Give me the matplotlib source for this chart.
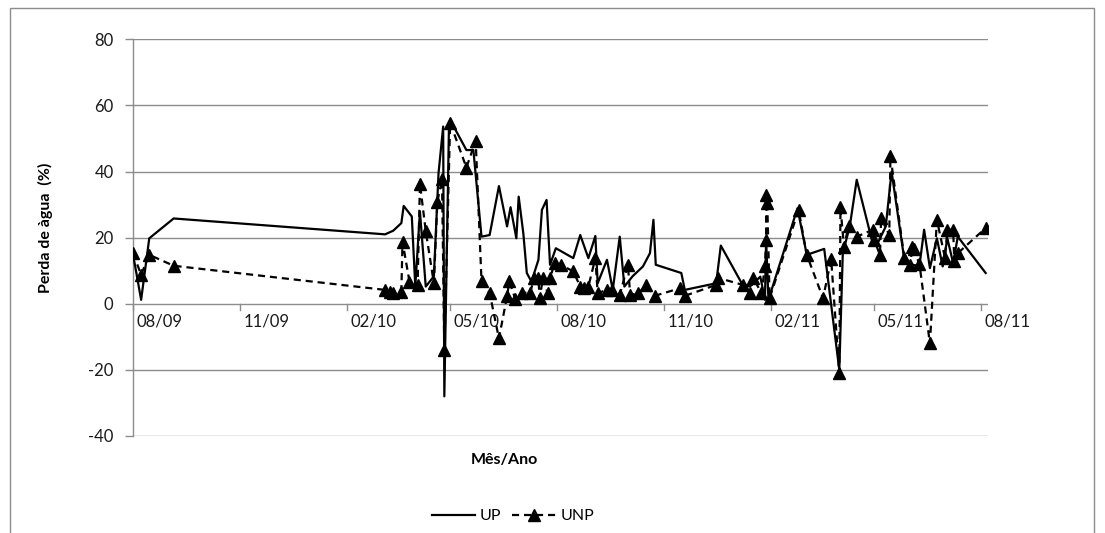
import matplotlib
matplotlib.use("Agg")
import matplotlib.pyplot as plt
from matplotlib.lines import Line2D
from matplotlib.patches import Rectangle
import pandas as pd

plt.rcParams['font.family'] = ['Lato', 'DejaVu Sans']

# ---- data ----
up_dates = ["2009-08-01", "2009-08-08", "2009-08-15", "2009-09-05", "2010-03-06", "2010-03-13",
            "2010-03-20", "2010-03-22", "2010-03-29", "2010-04-01", "2010-04-05", "2010-04-10",
            "2010-04-17", "2010-04-21", "2010-04-25", "2010-04-26", "2010-04-30", "2010-05-01",
            "2010-05-15", "2010-05-21", "2010-05-28", "2010-06-04", "2010-06-12", "2010-06-19",
            "2010-06-22", "2010-06-27", "2010-06-29", "2010-07-03", "2010-07-06", "2010-07-10",
            "2010-07-16", "2010-07-19", "2010-07-23", "2010-07-26", "2010-07-31", "2010-08-15",
            "2010-08-21", "2010-08-28", "2010-09-03", "2010-09-05", "2010-09-13", "2010-09-18",
            "2010-09-24", "2010-09-28", "2010-10-05", "2010-10-14", "2010-10-20", "2010-10-23",
            "2010-10-25", "2010-11-16", "2010-11-19", "2010-12-16", "2010-12-20", "2011-01-07",
            "2011-01-14", "2011-01-23", "2011-01-27", "2011-01-28", "2011-01-30", "2011-02-24",
            "2011-03-04", "2011-03-19", "2011-04-01", "2011-04-04", "2011-04-10", "2011-04-16",
            "2011-04-29", "2011-05-04", "2011-05-11", "2011-05-16", "2011-05-27", "2011-06-02",
            "2011-06-09", "2011-06-13", "2011-06-18", "2011-06-24", "2011-06-29", "2011-07-03",
            "2011-07-08", "2011-07-12", "2011-08-05"]
up_values = [15.0, 1.2, 19.8, 25.8, 21.0, 22.1,
             24.4, 29.6, 26.4, 5.2, 27.9, 5.2,
             8.3, 39.5, 53.6, -28.0, 54.0, 55.6,
             46.5, 46.5, 20.3, 20.8, 35.6, 23.4,
             29.2, 19.8, 32.4, 21.3, 9.3, 6.7,
             13.3, 28.4, 31.4, 11.8, 16.8, 13.8,
             20.8, 13.8, 20.5, 6.2, 13.3, 4.2,
             20.3, 5.2, 8.3, 11.3, 15.3, 25.4,
             11.8, 9.3, 4.2, 6.2, 17.6, 6.2,
             5.2, 8.2, 1.2, 19.3, 1.2, 28.9,
             14.8, 16.6, -20.0, 15.3, 23.4, 37.5,
             19.3, 18.3, 23.4, 40.0, 13.3, 11.8,
             11.5, 22.4, 10.8, 19.8, 11.3, 19.8,
             12.3, 20.3, 9.3]

unp_dates = ["2009-08-01", "2009-08-08", "2009-08-15", "2009-09-05", "2010-03-06", "2010-03-10",
             "2010-03-13", "2010-03-20", "2010-03-21", "2010-03-27", "2010-04-03", "2010-04-05",
             "2010-04-10", "2010-04-17", "2010-04-20", "2010-04-24", "2010-04-26", "2010-05-01",
             "2010-05-15", "2010-05-23", "2010-05-28", "2010-06-04", "2010-06-12", "2010-06-19",
             "2010-06-21", "2010-06-26", "2010-07-02", "2010-07-09", "2010-07-12", "2010-07-16",
             "2010-07-17", "2010-07-20", "2010-07-24", "2010-07-26", "2010-07-30", "2010-08-04",
             "2010-08-15", "2010-08-21", "2010-08-24", "2010-08-28", "2010-09-03", "2010-09-05",
             "2010-09-13", "2010-09-17", "2010-09-24", "2010-10-01", "2010-10-03", "2010-10-10",
             "2010-10-17", "2010-10-24", "2010-11-15", "2010-11-19", "2010-12-16", "2010-12-18",
             "2011-01-08", "2011-01-14", "2011-01-17", "2011-01-24", "2011-01-27", "2011-01-28",
             "2011-01-28", "2011-01-29", "2011-01-31", "2011-02-25", "2011-03-04", "2011-03-18",
             "2011-03-25", "2011-04-01", "2011-04-02", "2011-04-05", "2011-04-09", "2011-04-16",
             "2011-04-30", "2011-05-01", "2011-05-06", "2011-05-07", "2011-05-14", "2011-05-15",
             "2011-05-27", "2011-06-01", "2011-06-03", "2011-06-04", "2011-06-09", "2011-06-18",
             "2011-06-24", "2011-07-01", "2011-07-03", "2011-07-08", "2011-07-09", "2011-07-12",
             "2011-08-05"]
unp_values = [15.3, 8.8, 14.8, 11.5, 4.2, 3.7,
              3.4, 3.7, 18.8, 6.7, 5.7, 36.3,
              22.0, 6.2, 30.9, 37.6, -13.9, 54.8,
              41.2, 49.3, 6.9, 3.3, -10.5, 2.3,
              6.8, 1.5, 3.4, 3.2, 7.8, 7.8,
              1.7, 7.8, 3.2, 7.8, 12.3, 11.8,
              9.8, 5.2, 4.7, 5.2, 13.8, 3.2,
              4.2, 4.2, 2.7, 11.8, 2.7, 3.2,
              5.7, 2.4, 4.7, 2.4, 5.7, 7.8,
              5.7, 3.2, 7.8, 3.2, 11.3, 19.3,
              32.9, 30.4, 1.7, 28.4, 14.8, 1.7,
              13.5, -21.0, 29.2, 17.3, 23.4, 20.3,
              22.4, 19.3, 14.8, 25.9, 20.8, 44.8,
              13.8, 11.8, 17.3, 16.5, 12.0, -12.0,
              25.4, 13.8, 22.4, 22.4, 12.8, 15.3,
              22.9]

tick_months = ["2009-08-01", "2009-11-01", "2010-02-01", "2010-05-01", "2010-08-01",
               "2010-11-01", "2011-02-01", "2011-05-01", "2011-08-01"]
tick_labels = ["08/09", "11/09", "02/10", "05/10", "08/10", "11/10", "02/11", "05/11", "08/11"]
y_ticks = [-40, -20, 0, 20, 40, 60, 80]

# ---- figure ----
W, H = 1105, 533
fig = plt.figure(figsize=(W / 100, H / 100), dpi=100)
fig.patch.set_facecolor("white")

L, R, T, B = 133, 988, 39.3, 436
ax = fig.add_axes([L / W, 1 - B / H, (R - L) / W, (B - T) / H])

upd = pd.to_datetime(up_dates)
unpd = pd.to_datetime(unp_dates)

grid_c = "#8c8c8c"
dash = (0, (3.2, 2.2))
ax.plot(upd, up_values, color="black", lw=1.6, zorder=3)
ax.plot(unpd, unp_values, color="black", lw=1.6, ls=dash, marker="^",
        markersize=8, markerfacecolor="black", markeredgecolor="black", zorder=4)

ax.set_yticks(y_ticks)
ax.set_yticklabels([str(v) for v in y_ticks], fontsize=12)

for v in y_ticks:
    ax.axhline(v, color=grid_c, lw=1.0, zorder=1)

for s in ["top", "right", "bottom"]:
    ax.spines[s].set_visible(False)
ax.spines["left"].set_color(grid_c)
ax.spines["left"].set_linewidth(1.0)
ax.tick_params(axis="y", length=6, color=grid_c, width=1.0, pad=8, labelcolor="#1a1a1a")

# x axis at y=0: tick marks at month starts, labels offset into the month
tm = pd.to_datetime(tick_months)
ax.set_xticks([])
for d in tm:
    ax.plot([d, d], [0, -1.9], color=grid_c, lw=1.0, zorder=2, clip_on=False)
lab_pos = tm + pd.Timedelta(days=23)
for d, t in zip(lab_pos, tick_labels):
    ax.text(d, -2.8, t, ha="center", va="top", fontsize=12, color="#1a1a1a", clip_on=False)

ax.set_ylim(-40, 80)
ax.set_xlim(pd.Timestamp("2009-08-01"), pd.Timestamp("2011-08-07"))

fig.text(45 / W, 1 - 228 / H, "Perda de àgua  (%)", rotation=90, ha="center", va="center",
         fontsize=11.5, fontweight="bold")
fig.text(504 / W, 1 - 460 / H, "Mês/Ano", ha="center", va="center", fontsize=11.5, fontweight="bold")

handles = [Line2D([], [], color="black", lw=1.6),
           Line2D([], [], color="black", lw=1.6, ls=dash, marker="^", markersize=8)]
fig.legend(handles, ["UP", "UNP"], loc="center", bbox_to_anchor=(513 / W, 1 - 516 / H), ncol=2,
           frameon=False, fontsize=11.5, handlelength=2.7, columnspacing=0.7, handletextpad=0.3)

fig.patches.append(Rectangle((10 / W, -0.1), (1094 - 10) / W, 1.1 - 8 / H, transform=fig.transFigure,
                             fill=False, edgecolor="#8c8c8c", lw=1.0))

fig.savefig("out.png", dpi=100)
